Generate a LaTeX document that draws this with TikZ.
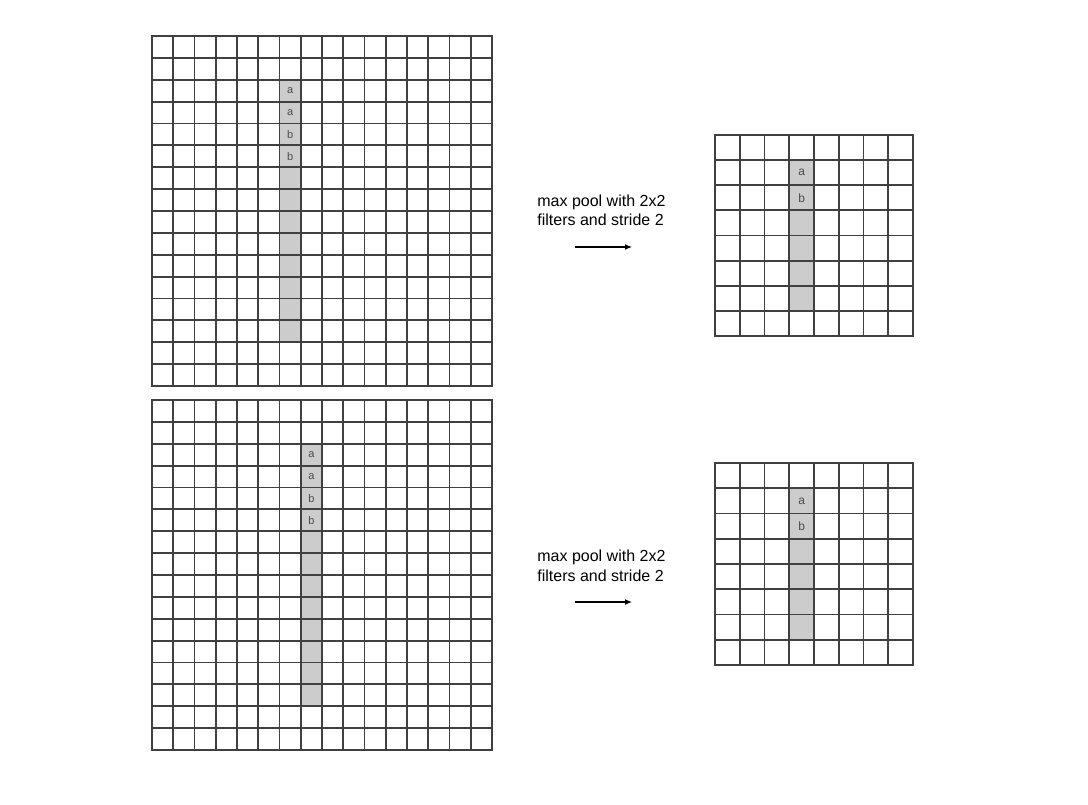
\documentclass[tikz,border=0pt]{standalone}
\usepackage{fontspec}
\setmainfont{Liberation Sans}
\usetikzlibrary{arrows.meta}
\definecolor{cellgray}{gray}{0.8}
\definecolor{gridline}{gray}{0.25}
\definecolor{lettergray}{gray}{0.3}
\tikzset{
  gridlines/.style={line width=0.95pt, gridline, line cap=rect},
  poolcol/.style={fill=cellgray},
  bigletter/.style={text=lettergray, font=\fontsize{5.5}{6}\selectfont, inner sep=0pt},
  smallletter/.style={text=lettergray, font=\fontsize{6}{7}\selectfont, inner sep=0pt},
  pooltext/.style={align=left, anchor=north west, font=\fontsize{8}{9.75}\selectfont, inner sep=0pt},
  poolarrow/.style={line width=0.6pt, -{Latex[length=3.5pt, width=3pt]}}
}

\begin{document}
\begin{tikzpicture}[x=0.5pt, y=-0.5pt]
  \useasboundingbox (0,0) rectangle (1088,804);
  \begin{scope}[shift={(152,36)}, xscale=21.25, yscale=21.875]
    \fill[poolcol] (6,2) rectangle (7,14);
    \foreach \i in {0,...,16}
      \draw[gridlines] (\i,0) -- (\i,16) (0,\i) -- (16,\i);
    \node[bigletter] (ta1) at (6.5,2.5) {a};
    \node[bigletter] (ta2) at (6.5,3.5) {a};
    \node[bigletter] (tb1) at (6.5,4.5) {b};
    \node[bigletter] (tb2) at (6.5,5.5) {b};
  \end{scope}
  \begin{scope}[shift={(715,135)}, xscale=24.75, yscale=25.125]
    \fill[poolcol] (3,1) rectangle (4,7);
    \foreach \i in {0,...,8}
      \draw[gridlines] (\i,0) -- (\i,8) (0,\i) -- (8,\i);
    \node[smallletter] (tpa) at (3.5,1.5) {a};
    \node[smallletter] (tpb) at (3.5,2.5) {b};
  \end{scope}
  \node[pooltext] (ttext) at (537,194.5) {max pool with 2x2\\filters and stride 2};
  \coordinate (tfrom) at (575,247);
  \coordinate (tto) at (632,247);
  \draw[poolarrow] (tfrom) -- (tto);
  \begin{scope}[shift={(152,400)}, xscale=21.25, yscale=21.875]
    \fill[poolcol] (7,2) rectangle (8,14);
    \foreach \i in {0,...,16}
      \draw[gridlines] (\i,0) -- (\i,16) (0,\i) -- (16,\i);
    \node[bigletter] (ba1) at (7.5,2.5) {a};
    \node[bigletter] (ba2) at (7.5,3.5) {a};
    \node[bigletter] (bb1) at (7.5,4.5) {b};
    \node[bigletter] (bb2) at (7.5,5.5) {b};
  \end{scope}
  \begin{scope}[shift={(715,463)}, xscale=24.75, yscale=25.25]
    \fill[poolcol] (3,1) rectangle (4,7);
    \foreach \i in {0,...,8}
      \draw[gridlines] (\i,0) -- (\i,8) (0,\i) -- (8,\i);
    \node[smallletter] (bpa) at (3.5,1.5) {a};
    \node[smallletter] (bpb) at (3.5,2.5) {b};
  \end{scope}
  \node[pooltext] (btext) at (537,549.5) {max pool with 2x2\\filters and stride 2};
  \coordinate (bfrom) at (575,602);
  \coordinate (bto) at (632,602);
  \draw[poolarrow] (bfrom) -- (bto);
\end{tikzpicture}
\end{document}
